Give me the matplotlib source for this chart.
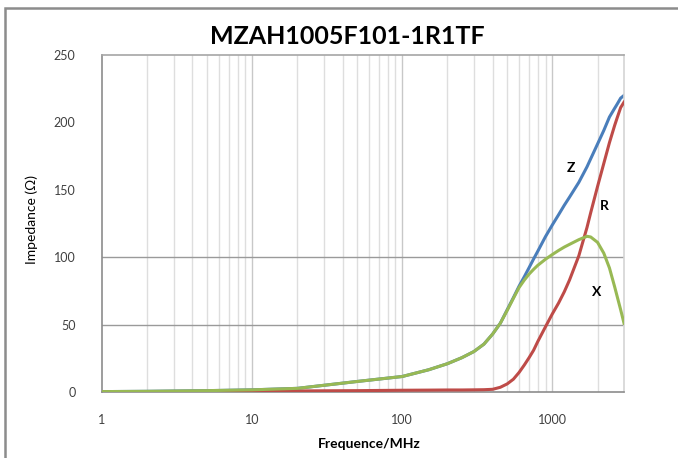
import matplotlib
matplotlib.use("Agg")
import matplotlib.pyplot as plt
from matplotlib.patches import Rectangle

plt.rcParams['font.family'] = ['Lato', 'DejaVu Sans']

# frequency points (MHz) and impedance values
freq = [1, 2, 5, 10, 20, 50, 100, 150, 200, 250, 300, 350, 400, 450, 500, 550,
        600, 650, 700, 750, 800, 900, 1000, 1100, 1200, 1300, 1500, 1700, 1800,
        2000, 2200, 2400, 2600, 2700, 2850, 3000]
z_vals = [0.3, 0.5, 1.0, 1.6, 2.7, 7.8, 11.5, 16.5, 21, 25.5, 30, 35.5, 43, 51, 61, 70,
          78.5, 85.5, 92.3, 98.7, 104.5, 115.3, 124, 131.5, 138.5, 144.5, 155.5, 167, 173,
          184, 194, 204, 210.5, 213.5, 218, 220]
r_vals = [0, 0, 0.2, 0.5, 0.8, 1.0, 1.3, 1.4, 1.5, 1.5, 1.6, 1.7, 2.0, 3.5, 6, 9.5,
          14.5, 20, 25.5, 31, 37.5, 48.4, 58, 66, 74.3, 83, 101, 122, 133,
          152.5, 169.5, 185, 197.8, 203.3, 211, 215]
x_vals = [0.3, 0.5, 1.0, 1.6, 2.7, 7.8, 11.5, 16.5, 21, 25.5, 30, 35.5, 43, 51, 60.5, 69.5,
          77.5, 83, 87.5, 91, 94, 98.5, 102, 105, 107.5, 109.5, 113, 115.5, 115,
          111, 103, 92, 78, 71, 61, 51]

title = "MZAH1005F101-1R1TF"
x_ticks = [1, 10, 100, 1000]
y_ticks = [0, 50, 100, 150, 200, 250]
minor_ticks = [m * d for d in (1, 10, 100, 1000) for m in range(2, 10) if m * d < 3000]

fig = plt.figure(figsize=(6.78, 4.58), dpi=100)
ax = fig.add_axes([102 / 678, 1 - 392 / 458, 522 / 678, 337 / 458])

# outer chart border (only left and top visible in the crop)
fig.patches.append(Rectangle((5 / 678, -0.2), 1.2, 1.2 - 8 / 458,
                             transform=fig.transFigure, fill=False,
                             edgecolor='#8c8c8c', linewidth=1.8))

for m in minor_ticks:
    ax.axvline(m, color='#dedede', linewidth=1.0, zorder=0)
for t in x_ticks[1:]:
    ax.axvline(t, color='#c8c8c8', linewidth=1.0, zorder=0)
for h in (50, 100):
    ax.axhline(h, color='#9a9a9a', linewidth=1.0, zorder=0)

ax.plot(freq, z_vals, color='#4a7ebb', linewidth=2.2, zorder=2)
ax.plot(freq, r_vals, color='#be4b48', linewidth=2.2, zorder=3)
ax.plot(freq, x_vals, color='#98b954', linewidth=2.2, zorder=4)

ax.text(1327, 166, "Z", fontsize=10, fontweight='bold', ha='center', va='center')
ax.text(2233, 138, "R", fontsize=10, fontweight='bold', ha='center', va='center')
ax.text(1976, 74, "X", fontsize=10, fontweight='bold', ha='center', va='center')

ax.set_xscale('log')
ax.set_xlim(1, 3000)
ax.set_ylim(0, 250)
ax.set_xticks(x_ticks)
ax.set_xticklabels([str(t) for t in x_ticks])
ax.set_xticks([], minor=True)
ax.set_yticks(y_ticks)
ax.set_yticklabels([str(t) for t in y_ticks])
ax.tick_params(axis='both', length=0, labelsize=9, colors='#404040')
ax.tick_params(axis='x', pad=16)
ax.tick_params(axis='y', pad=19)

ax.spines['left'].set_color('#8c8c8c')
ax.spines['bottom'].set_color('#8c8c8c')
ax.spines['top'].set_color('#a6a6a6')
ax.spines['right'].set_color('#d4d4d4')
for s in ax.spines.values():
    s.set_linewidth(1.2)

fig.text(347 / 678, 1 - 37 / 458, title, fontsize=18, fontweight='bold',
         ha='center', va='center')
fig.text(32 / 678, 1 - 220 / 458, "Impedance (Ω)", fontsize=10, rotation=90,
         ha='center', va='center')
fig.text(369 / 678, 1 - 444 / 458, "Frequence/MHz", fontsize=10, fontweight='bold',
         ha='center', va='center')

fig.savefig("out.png", dpi=100)
